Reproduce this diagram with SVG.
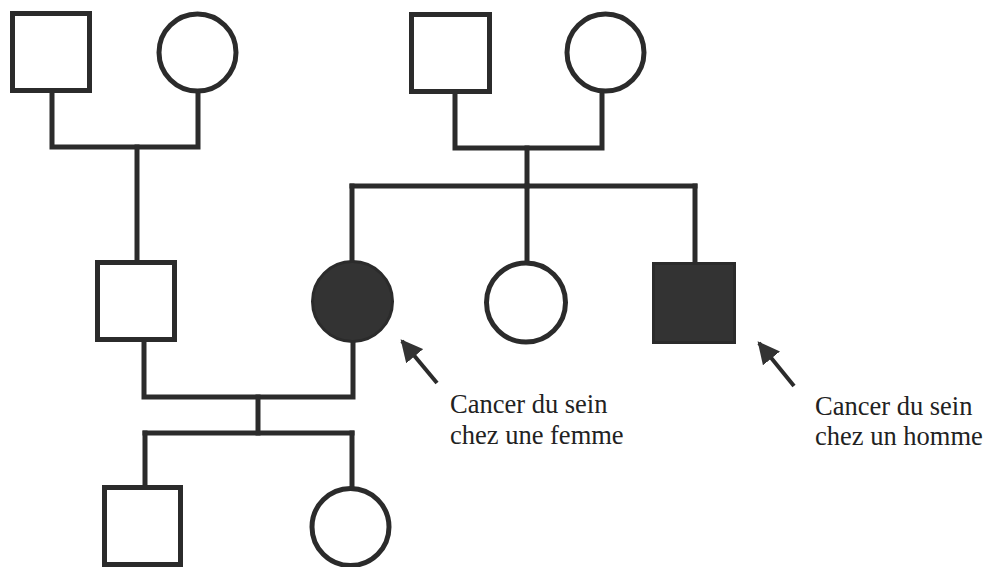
<svg xmlns="http://www.w3.org/2000/svg" width="991" height="567" viewBox="0 0 991 567">
<style>
.n{fill:#fff;stroke:#2b2b2b;stroke-width:5}
.a{fill:#333;stroke:#2b2b2b;stroke-width:3}
.c{fill:none;stroke:#2b2b2b;stroke-width:5;stroke-linejoin:miter;stroke-linecap:square}
.arr{fill:none;stroke:#2b2b2b;stroke-width:4}
.t{font-family:"Liberation Serif","Times New Roman",serif;font-size:26.5px;fill:#222}
</style>
<defs>
<marker id="ah" viewBox="0 0 10 10" refX="9" refY="5" markerWidth="5.5" markerHeight="5.5" markerUnits="strokeWidth" orient="auto">
<path d="M0,0 L10,5 L0,10 z" fill="#333"/>
</marker>
</defs>
<rect width="991" height="567" fill="#fff"/>
<g id="connectors">
<path class="c" d="M52,93 V147 H198 V91"/>
<path class="c" d="M137,147 V260"/>
<path class="c" d="M455,94 V148 H602 V91"/>
<path class="c" d="M527,148 V186"/>
<path class="c" d="M352,186 H695"/>
<path class="c" d="M352,186 V261"/>
<path class="c" d="M527,186 V262"/>
<path class="c" d="M695,186 V262"/>
<path class="c" d="M144,342 V397 H353 V342"/>
<path class="c" d="M258,397 V433"/>
<path class="c" d="M145,433 H352"/>
<path class="c" d="M145,433 V487"/>
<path class="c" d="M352,433 V487"/>
<line class="arr" x1="437" y1="383" x2="402" y2="341" marker-end="url(#ah)"/>
<line class="arr" x1="794" y1="386" x2="759" y2="343" marker-end="url(#ah)"/>
</g>
<g id="gf1"><rect class="n" x="12.5" y="13.5" width="77" height="77"/></g>
<g id="gm1"><circle class="n" cx="197.5" cy="52.5" r="38.5"/></g>
<g id="gf2"><rect class="n" x="411.5" y="14.5" width="78" height="77"/></g>
<g id="gm2"><circle class="n" cx="605.5" cy="52.5" r="38.5"/></g>
<g id="father"><rect class="n" x="97.5" y="262.5" width="77" height="77"/></g>
<g id="mother"><circle class="a" cx="352.5" cy="301.5" r="40"/></g>
<g id="aunt"><circle class="n" cx="526" cy="302.5" r="39.5"/></g>
<g id="uncle"><rect class="a" x="653.5" y="263.5" width="81" height="79"/></g>
<g id="son"><rect class="n" x="104.5" y="487.5" width="76" height="77"/></g>
<g id="daughter"><circle class="n" cx="350.5" cy="527" r="38.5"/></g>
<g id="label-femme">
<text class="t" x="450" y="413">Cancer du sein</text>
<text class="t" x="450" y="444">chez une femme</text>
</g>
<g id="label-homme">
<text class="t" x="815" y="415">Cancer du sein</text>
<text class="t" x="815" y="445">chez un homme</text>
</g>
</svg>
